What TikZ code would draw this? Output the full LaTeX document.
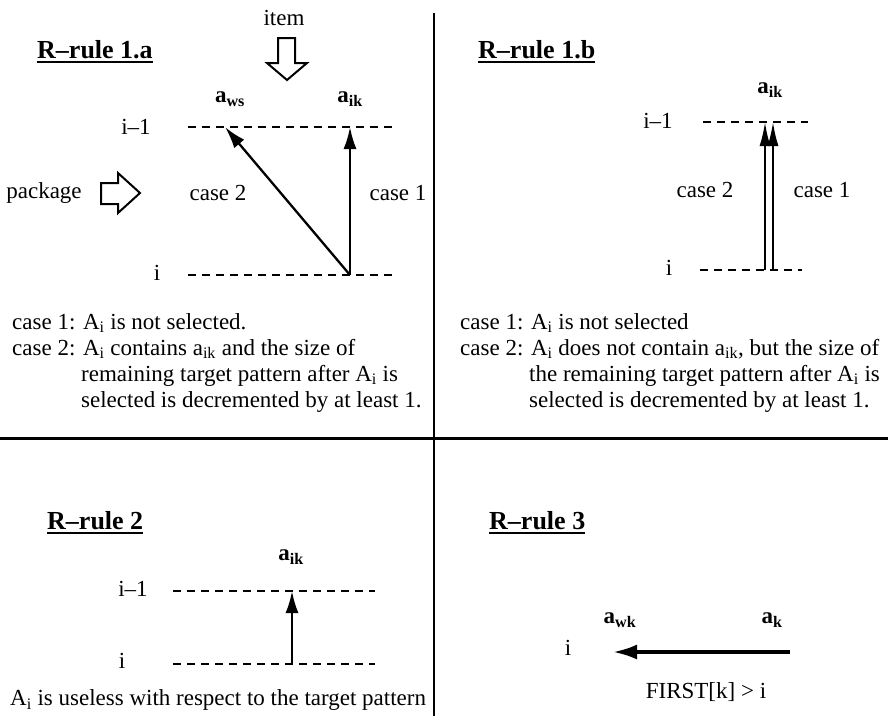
\documentclass[tikz,border=0pt]{standalone}
\usepackage{fontspec}
\setmainfont{Liberation Serif}
\usetikzlibrary{arrows.meta}
\newcommand\sbs[1]{\textsubscript{#1}}
\begin{document}
\begin{tikzpicture}[x=1pt,y=-1pt,
  body/.style={font=\fontsize{23}{26}\selectfont, inner sep=0pt},
  lab/.style={font=\fontsize{23}{26}\selectfont\bfseries, inner sep=0pt},
  ttl/.style={font=\fontsize{26}{30}\selectfont\bfseries, inner sep=0pt, anchor=base west},
  ul/.style={line width=1.8pt},
  lvl/.style={line width=2.3pt, dash pattern=on 8pt off 6pt},
  arr/.style={line width=2.3pt, -{Latex[length=22pt,width=13pt]}},
  thinarr/.style={line width=2pt, -{Latex[length=24pt,width=11pt]}},
  bigarr/.style={line width=3.5pt, -{Latex[length=24pt,width=15pt]}},
  hollow/.style={line width=2pt, line join=miter},
  divider/.style={line width=2.4pt}]
\useasboundingbox (0,0) rectangle (888,716);

% dividers
\coordinate (vt) at (434,13);
\coordinate (vb) at (434,716);
\coordinate (hl) at (0,438);
\coordinate (hr) at (888,438);
\draw[divider] (vt) -- (vb);
\draw[divider, line width=3pt] (hl) -- (hr);

% ---------------- R-rule 1.a ----------------
\node[ttl] (t1a) at (37,58) {R–rule 1.a};
\draw[ul] ([yshift=-4pt]t1a.base west) -- ([yshift=-4pt]t1a.base east);
\node[body] (item) at (284,18) {item};
\draw[hollow] (278,38) -- (295,38) -- (295,63) -- (307,63) -- (287,80) -- (267,63) -- (278,63) -- cycle;
\node[body] (pkg) at (44,193) {package};
\draw[hollow] (101,183) -- (118,183) -- (118,173) -- (140,193) -- (118,213) -- (118,204) -- (101,204) -- cycle;
\node[lab] (aws) at (230,99) {a\sbs{ws}};
\node[lab] (aik1) at (350,99) {a\sbs{ik}};
\node[body] (im1a) at (136,127) {i–1};
\node[body] (i1a) at (157,273) {i};
\coordinate (l1aL) at (188,127); \coordinate (l1aR) at (392,127);
\coordinate (l2aL) at (188,275); \coordinate (l2aR) at (392,275);
\draw[lvl] (l1aL) -- (l1aR);
\draw[lvl] (l2aL) -- (l2aR);
\coordinate (src1a) at (350,275);
\coordinate (tipik1a) at (350,127);
\coordinate (tipws1a) at (225,127);
\draw[arr] (src1a) -- (tipik1a);
\draw[arr] (src1a) -- (tipws1a);
\node[body] (c2a) at (218,193) {case 2};
\node[body] (c1a) at (398,193) {case 1};

\node[body, anchor=base west, align=left] (txt1a) at (12,407) {case 1: A\sbs{i} is not selected.\\
case 2: A\sbs{i} contains a\sbs{ik} and the size of\\
\hphantom{case 2:\ }remaining target pattern after A\sbs{i} is\\
\hphantom{case 2:\ }selected is decremented by at least 1.};

% ---------------- R-rule 1.b ----------------
\node[ttl] (t1b) at (478,58) {R–rule 1.b};
\draw[ul] ([yshift=-4pt]t1b.base west) -- ([yshift=-4pt]t1b.base east);
\node[lab] (aik1b) at (770,90) {a\sbs{ik}};
\node[body] (im1b) at (658,121) {i–1};
\node[body] (i1b) at (669,268) {i};
\coordinate (l1bL) at (703,122); \coordinate (l1bR) at (808,122);
\coordinate (l2bL) at (700,270); \coordinate (l2bR) at (802,270);
\draw[lvl] (l1bL) -- (l1bR);
\draw[lvl] (l2bL) -- (l2bR);
\coordinate (s2b) at (765,270); \coordinate (e2b) at (765,122);
\coordinate (s1b) at (773,270); \coordinate (e1b) at (773,122);
\draw[thinarr] (s2b) -- (e2b);
\draw[thinarr] (s1b) -- (e1b);
\node[body] (c2b) at (705,190) {case 2};
\node[body] (c1b) at (822,190) {case 1};

\node[body, anchor=base west, align=left] (txt1b) at (460,407) {case 1: A\sbs{i} is not selected\\
case 2: A\sbs{i} does not contain a\sbs{ik}, but the size of\\
\hphantom{case 2:\ }the remaining target pattern after A\sbs{i} is\\
\hphantom{case 2:\ }selected is decremented by at least 1.};

% ---------------- R-rule 2 ----------------
\node[ttl] (t2) at (47,529) {R–rule 2};
\draw[ul] ([yshift=-4pt]t2.base west) -- ([yshift=-4pt]t2.base east);
\node[lab] (aik2) at (291,557) {a\sbs{ik}};
\node[body] (im2) at (133,589) {i–1};
\node[body] (i2) at (122,661) {i};
\coordinate (l12L) at (173,591); \coordinate (l12R) at (375,591);
\coordinate (l22L) at (173,664); \coordinate (l22R) at (375,664);
\draw[lvl] (l12L) -- (l12R);
\draw[lvl] (l22L) -- (l22R);
\coordinate (s2) at (292,664); \coordinate (e2) at (292,591);
\draw[arr] (s2) -- (e2);
\node[body, anchor=west] (txt2) at (10,700) {A\sbs{i} is useless with respect to the target pattern};

% ---------------- R-rule 3 ----------------
\node[ttl] (t3) at (489,529) {R–rule 3};
\draw[ul] ([yshift=-4pt]t3.base west) -- ([yshift=-4pt]t3.base east);
\node[lab] (awk) at (620,620) {a\sbs{wk}};
\node[lab] (ak) at (772,620) {a\sbs{k}};
\node[body] (i3) at (568,648) {i};
\coordinate (s3) at (790,652); \coordinate (e3) at (613,652);
\draw[bigarr] (s3) -- (e3);
\node[body] (first) at (706,692) {FIRST[k] > i};
\end{tikzpicture}
\end{document}
